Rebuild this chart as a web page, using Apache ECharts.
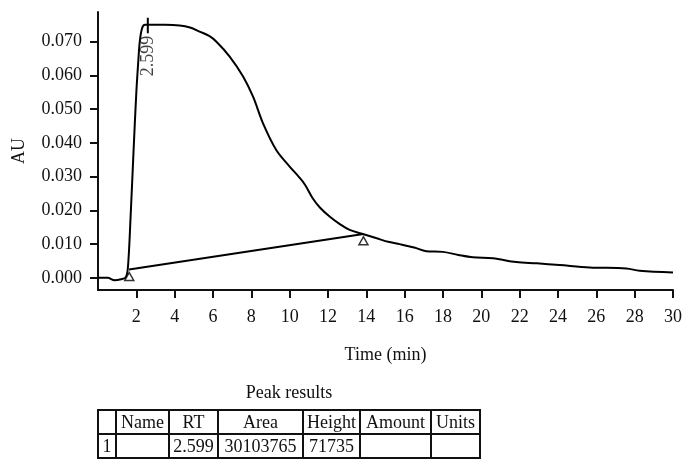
<!DOCTYPE html>
<html>
<head>
<meta charset="utf-8">
<script src="https://cdn.jsdelivr.net/npm/echarts@6/dist/echarts.min.js"></script>
<style>html,body{margin:0;padding:0;background:#fff}#c{width:686px;height:460px}</style>
</head>
<body>
<div id="c"></div>
<script>
// ---- data ----
const times = [0, 0.5, 0.87, 1.2, 1.45, 1.56, 1.7, 1.85, 2.0, 2.1, 2.18, 2.3, 2.45, 3.0, 3.5, 4.26, 4.8, 5.3, 5.8, 6.18, 6.87, 7.57, 8.09, 8.61, 9.3, 10.0, 10.5, 10.8, 11.2, 11.6, 12.1, 12.6, 13.13, 13.82, 14.5, 15.2, 15.74, 16.5, 17.13, 18.0, 18.8, 19.56, 20.6, 21.82, 22.9, 24.08, 25.65, 27.56, 28.26, 30];
const absorbance = [0.0000, 0.0000, -0.0007, -0.0004, 0.0002, 0.0030, 0.0180, 0.0370, 0.0550, 0.0640, 0.0700, 0.0740, 0.0750, 0.0750, 0.0750, 0.0748, 0.0742, 0.0730, 0.0717, 0.0700, 0.0656, 0.0597, 0.0537, 0.0458, 0.0379, 0.0330, 0.0298, 0.0276, 0.0236, 0.0207, 0.0181, 0.0160, 0.0142, 0.0130, 0.0118, 0.0106, 0.0100, 0.0090, 0.0079, 0.0077, 0.0068, 0.0061, 0.0058, 0.0047, 0.0043, 0.0038, 0.0031, 0.0028, 0.0021, 0.0016];
const baselineTimes = [1.62, 13.85];
const baselineValues = [0.0025, 0.0130];
const markerTimes = [1.63, 13.85];
const markerValues = [0.0004, 0.0110];
const peakRT = 2.599;
const peakTickValues = [0.0725, 0.0771];
const peakLabelValue = 0.0652;
const peakLabel = '2.599';
const yTickValues = [0, 0.01, 0.02, 0.03, 0.04, 0.05, 0.06, 0.07];
const xTickValues = [2, 4, 6, 8, 10, 12, 14, 16, 18, 20, 22, 24, 26, 28, 30];
const tableTitle = 'Peak results';
const tableHeader = ['', 'Name', 'RT', 'Area', 'Height', 'Amount', 'Units'];
const tableRow = ['1', '', '2.599', '30103765', '71735', '', ''];

// ---- chart ----
const FONT = 'Liberation Serif';
const chart = echarts.init(document.getElementById('c'), null, {renderer: 'canvas'});

const colEdges = [98, 116, 169, 218, 303, 360, 431, 480];
const rowEdges = [410, 434, 458];
const graphics = [];
graphics.push({type: 'rect', shape: {x: colEdges[0], y: rowEdges[0], width: colEdges[7] - colEdges[0], height: rowEdges[2] - rowEdges[0]}, style: {fill: 'none', stroke: '#111', lineWidth: 2}});
graphics.push({type: 'line', shape: {x1: colEdges[0], y1: rowEdges[1], x2: colEdges[7], y2: rowEdges[1]}, style: {stroke: '#111', lineWidth: 2}});
for (let i = 1; i < colEdges.length - 1; i++) {
  graphics.push({type: 'line', shape: {x1: colEdges[i], y1: rowEdges[0], x2: colEdges[i], y2: rowEdges[2]}, style: {stroke: '#111', lineWidth: 2}});
}
[tableHeader, tableRow].forEach((row, r) => {
  row.forEach((txt, c) => {
    if (!txt) return;
    graphics.push({type: 'text', x: (colEdges[c] + colEdges[c + 1]) / 2, y: (rowEdges[r] + rowEdges[r + 1]) / 2 + 1,
      style: {text: txt, font: '18px "' + FONT + '"', fill: '#111', align: 'center', verticalAlign: 'middle'}});
  });
});
graphics.push({type: 'text', x: (colEdges[0] + colEdges[7]) / 2, y: 393,
  style: {text: tableTitle, font: '18px "' + FONT + '"', fill: '#111', align: 'center', verticalAlign: 'middle'}});

const option = {
  backgroundColor: '#fff',
  animation: false,
  textStyle: {fontFamily: FONT, color: '#111'},
  grid: {left: 98, right: 13, top: 12, bottom: 170, containLabel: false, outerBoundsMode: 'none'},
  xAxis: {
    type: 'value', min: 0, max: 30,
    name: 'Time (min)', nameLocation: 'middle', nameGap: 56,
    nameTextStyle: {fontFamily: FONT, fontSize: 18, color: '#111'},
    axisLine: {onZero: false, lineStyle: {color: '#111', width: 2}},
    axisTick: {show: true, length: 8, inside: false, customValues: xTickValues, lineStyle: {color: '#111', width: 2}},
    axisLabel: {customValues: xTickValues, fontFamily: FONT, fontSize: 18, color: '#111', margin: 18},
    splitLine: {show: false}
  },
  yAxis: {
    type: 'value', min: -0.0036, max: 0.0788,
    name: 'AU', nameLocation: 'middle', nameGap: 70, nameRotate: 90,
    nameTextStyle: {fontFamily: FONT, fontSize: 18, color: '#111'},
    axisLine: {show: true, lineStyle: {color: '#111', width: 2}},
    axisTick: {show: true, length: 8, customValues: yTickValues, lineStyle: {color: '#111', width: 2}},
    axisLabel: {customValues: yTickValues, fontFamily: FONT, fontSize: 18, color: '#111', margin: 16,
      formatter: v => v.toFixed(3)},
    splitLine: {show: false}
  },
  series: [
    {type: 'line', data: times.map((t, i) => [t, absorbance[i]]), showSymbol: false, smooth: 0.35,
      lineStyle: {color: '#000', width: 2}, z: 3},
    {type: 'line', data: baselineTimes.map((t, i) => [t, baselineValues[i]]), showSymbol: false,
      lineStyle: {color: '#000', width: 2}, z: 3},
    {type: 'line', data: peakTickValues.map(v => [peakRT, v]), showSymbol: false,
      lineStyle: {color: '#000', width: 2}, z: 3},
    {type: 'scatter', data: [[peakRT, peakLabelValue]], symbolSize: 0,
      label: {show: true, formatter: peakLabel, rotate: 90, position: 'inside', offset: [2, 0], fontFamily: FONT, fontSize: 18, color: '#111'}, z: 4},
    {type: 'scatter', data: markerTimes.map((t, i) => [t, markerValues[i]]), symbol: 'triangle', symbolSize: [9, 8],
      itemStyle: {color: '#fff', borderColor: '#000', borderWidth: 1.5}, z: 5}
  ],
  graphic: graphics
};
chart.setOption(option);
</script>
</body>
</html>
